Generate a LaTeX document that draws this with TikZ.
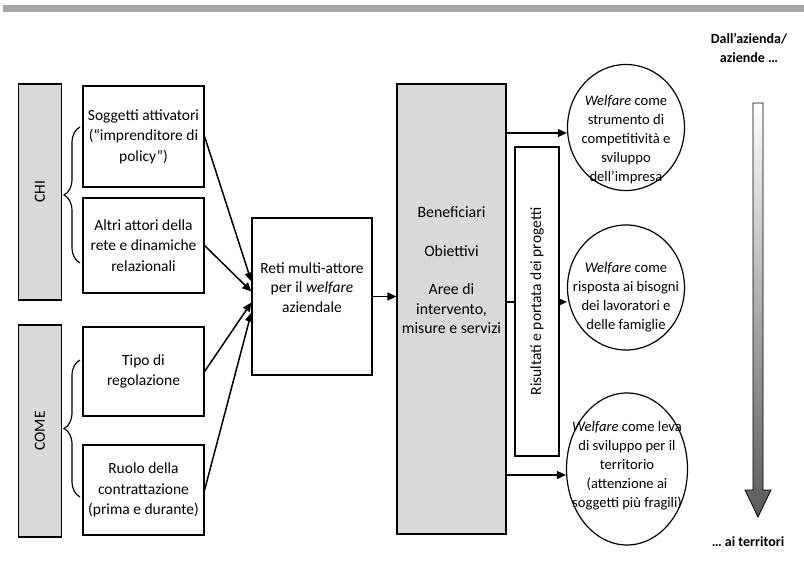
\documentclass[tikz,border=0pt]{standalone}
\usepackage{fontspec}
\setmainfont{Carlito}
\usetikzlibrary{positioning}
\usetikzlibrary{arrows.meta,shapes.geometric}
\usetikzlibrary{decorations.pathreplacing}

\begin{document}
\begin{tikzpicture}[x=1pt, y=-1pt, font=\fontsize{15.5}{20.5}\selectfont,
  box/.style={draw, line width=1.2pt, rectangle, align=center, inner sep=0pt},
  greybox/.style={box, fill=black!15},
  ell/.style={draw, line width=1.2pt, ellipse, inner sep=0pt},
  elltext/.style={align=center, font=\fontsize{14.6}{19}\selectfont},
  arr/.style={-{Triangle[length=9pt,width=8pt]}, line width=1.5pt},
  brc/.style={line width=1.2pt, decorate, decoration={brace, amplitude=16pt}},
  corner/.style={font=\fontsize{14}{19}\selectfont\bfseries, align=center}]

 \useasboundingbox (0,0) rectangle (804,561);
 \fill[black!35] (3,5) rectangle (804,12);

 % chi / come
 \node[greybox, rotate=90, minimum width=216pt, minimum height=43pt] (chi) at (40,192) {CHI};
 \node[greybox, rotate=90, minimum width=212pt, minimum height=43pt] (come) at (40,431) {COME};

 \foreach \name/\yc/\h/\txt in {sogg/136.5/101/{Soggetti attivatori\\(“imprenditore di\\policy”)},
     altri/245.5/95/{Altri attori della\\rete e dinamiche\\relazionali},
     tipo/371.5/89/{Tipo di\\regolazione},
     ruolo/490/90/{Ruolo della\\contrattazione\\(prima e durante)}} {
    \node[box, minimum width=121pt, minimum height=\h pt] (\name) at (143.5,\yc) {\txt};
 }

 \draw[brc] (80,263) -- (80,127);
 \draw[brc] (80,497) -- (80,360);

 \node[box, minimum width=120pt, minimum height=157pt] (reti) at (312,296.5) {};
 \node[align=center, font=\fontsize{15.5}{19.5}\selectfont] (retitxt) at ([yshift=9pt]reti.center) {Reti multi-attore\\per il \textit{welfare}\\aziendale};

 \draw[arr] (sogg.east) -- ([yshift=15pt]reti.west);
 \draw[arr] (altri.east) -- ([yshift=5pt]reti.west);
 \draw[arr] (tipo.east) -- ([yshift=-6pt]reti.west);
 \draw[arr] (ruolo.east) -- ([yshift=-16pt]reti.west);

 % azioni
 \node[greybox, minimum width=109pt, minimum height=450pt] (azioni) at (451.5,309) {};
 \node[align=center, font=\fontsize{15.8}{19.5}\selectfont] (azionitxt) at (451.5,270.5) {Beneficiari\\[19pt]Obiettivi\\[19pt]Aree di\\intervento,\\misure e servizi};
 \draw[arr] (reti.east) -- (reti.east -| azioni.west);

 % welfare
 \node[ell, minimum width=117pt, minimum height=126pt] (e1) at (626,127.5) {};
 \node[elltext] (t1) at (626,140) {\textit{Welfare} come\\strumento di\\competitività e\\sviluppo\\dell’impresa};
 \node[ell, minimum width=117pt, minimum height=125pt] (e2) at (626,287.5) {};
 \node[elltext] (t2) at (626,297.5) {\textit{Welfare} come\\risposta ai bisogni\\dei lavoratori e\\delle famiglie};
 \node[ell, minimum width=121pt, minimum height=152pt] (e3) at (627,469) {};
 \node[elltext] (t3) at (627,465.5) {\textit{Welfare} come leva\\di sviluppo per il\\territorio\\(attenzione ai\\soggetti più fragili)};

 \foreach \y/\e in {133/e1, 302/e2, 475/e3}
   \draw[arr] (azioni.east |- 0,\y) -- (\e.west |- 0,\y);

 \node[box, fill=white, rotate=90, minimum width=309pt, minimum height=44pt] (risultati) at (537,301.5) {Risultati e portata dei progetti};

 \shade[draw, line width=0.8pt, top color=white, bottom color=black!65]
   (753,103) -- (763,103) -- (763,490) -- (771,490) -- (758,517) -- (745,490) -- (753,490) -- cycle;
 \node[corner] (da) at (749,48) {Dall’azienda/\\aziende …};
 \node[corner] (verso) at (748,542) {… ai territori};

\end{tikzpicture}
\end{document}
